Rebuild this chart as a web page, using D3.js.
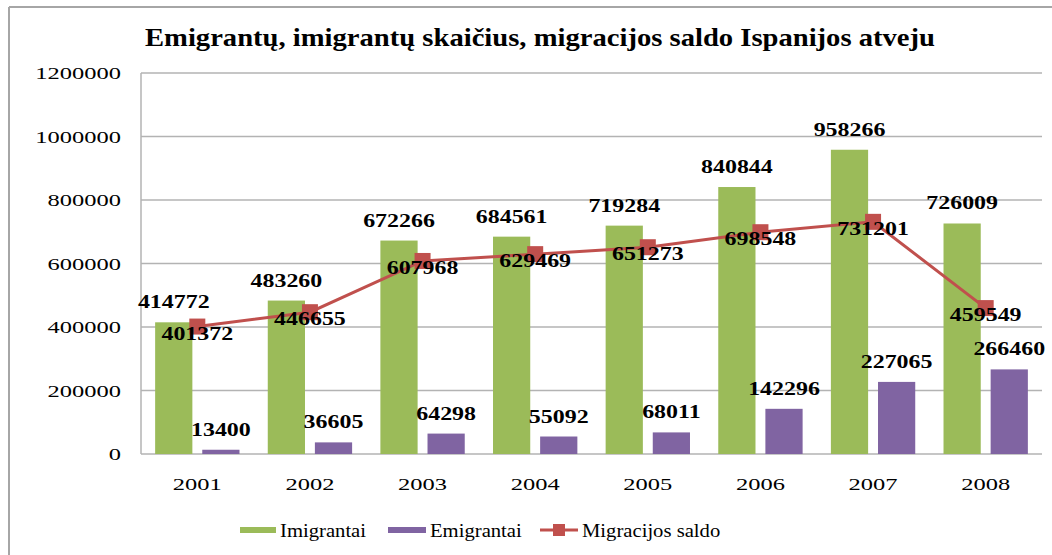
<!DOCTYPE html>
<html>
<head>
<meta charset="utf-8">
<script src="https://cdn.jsdelivr.net/npm/d3@7"></script>
<style>
    body { margin: 0; background: #fff; }
    text { font-family: "Liberation Serif", "Times New Roman", serif; }
</style>
</head>
<body>
<script>
var years = ['2001', '2002', '2003', '2004', '2005', '2006', '2007', '2008'];
var imigrantai = [414772, 483260, 672266, 684561, 719284, 840844, 958266, 726009];
var emigrantai = [13400, 36605, 64298, 55092, 68011, 142296, 227065, 266460];
var saldo = [401372, 446655, 607968, 629469, 651273, 698548, 731201, 459549];
var yTicks = [0, 200000, 400000, 600000, 800000, 1000000, 1200000];
var seriesNames = ['Imigrantai', 'Emigrantai', 'Migracijos saldo'];
var colors = ['#9BBB59', '#8064A2', '#C0504D'];

var width = 1052;
var height = 555;

var svg = d3.select('body')
    .append('svg')
    .attr('width', width)
    .attr('height', height);

// outer frame (only top and left edges visible)
svg.append('line')
    .attr('x1', 9).attr('x2', width)
    .attr('y1', 7).attr('y2', 7)
    .attr('stroke', '#a6a6a6').attr('stroke-width', 2);
svg.append('line')
    .attr('x1', 9).attr('x2', 9)
    .attr('y1', 7).attr('y2', height)
    .attr('stroke', '#a6a6a6').attr('stroke-width', 2);

svg.append('text')
    .attr('x', 540)
    .attr('y', 46)
    .attr('text-anchor', 'middle')
    .attr('font-size', 25)
    .attr('font-weight', 'bold')
    .attr('textLength', 790)
    .attr('lengthAdjust', 'spacingAndGlyphs')
    .text('Emigrantų, imigrantų skaičius, migracijos saldo Ispanijos atveju');

var x = d3.scaleBand().domain(years).range([141, 1042]);
var xInner = d3.scaleBand().domain([0, 1]).range([0, x.bandwidth()])
    .paddingInner(0.21).paddingOuter(0.3);
var y = d3.scaleLinear().domain([0, 1200000]).range([454, 73]);

// stretched text helper
function wideText(g, tx, ty, sx, str) {
    return g.append('text')
        .attr('transform', 'translate(' + tx + ',' + ty + ') scale(' + sx + ',1)')
        .text(str);
}

// gridlines + y labels
yTicks.forEach(function (t) {
    svg.append('line')
        .attr('x1', 141).attr('x2', 1042)
        .attr('y1', y(t)).attr('y2', y(t))
        .attr('stroke', '#b3b3b3').attr('stroke-width', 1.5);
    wideText(svg, 121, y(t) + 6, 1.4, t)
        .attr('text-anchor', 'end')
        .attr('font-size', 17.5);
});
svg.append('line')
    .attr('x1', 141).attr('x2', 141)
    .attr('y1', y(1200000)).attr('y2', y(0))
    .attr('stroke', '#b3b3b3').attr('stroke-width', 1.5);

// x labels
years.forEach(function (yr) {
    wideText(svg, x(yr) + x.bandwidth() / 2, 490, 1.4, yr)
        .attr('text-anchor', 'middle')
        .attr('font-size', 17.5);
});

// bars
var barSeries = [imigrantai, emigrantai];
barSeries.forEach(function (vals, s) {
    svg.selectAll('.bar' + s)
        .data(vals)
        .enter()
        .append('rect')
        .attr('x', function (d, i) { return x(years[i]) + xInner(s); })
        .attr('y', function (d) { return y(d); })
        .attr('width', xInner.bandwidth())
        .attr('height', function (d) { return y(0) - y(d); })
        .attr('fill', colors[s]);
});

// line
var line = d3.line()
    .x(function (d, i) { return x(years[i]) + x.bandwidth() / 2; })
    .y(function (d) { return y(d); });

svg.append('path')
    .datum(saldo)
    .attr('d', line)
    .attr('fill', 'none')
    .attr('stroke', colors[2])
    .attr('stroke-width', 3);

saldo.forEach(function (d, i) {
    svg.append('rect')
        .attr('x', x(years[i]) + x.bandwidth() / 2 - 8)
        .attr('y', y(d) - 8)
        .attr('width', 16)
        .attr('height', 16)
        .attr('fill', colors[2]);
});

// data labels
barSeries.forEach(function (vals, s) {
    vals.forEach(function (d, i) {
        wideText(svg, x(years[i]) + xInner(s) + xInner.bandwidth() / 2, y(d) - 14, 1.33, d)
            .attr('text-anchor', 'middle')
            .attr('font-size', 18)
            .attr('font-weight', 'bold');
    });
});
saldo.forEach(function (d, i) {
    wideText(svg, x(years[i]) + x.bandwidth() / 2, y(d) + 13, 1.33, d)
        .attr('text-anchor', 'middle')
        .attr('font-size', 18)
        .attr('font-weight', 'bold');
});

// legend
var legend = svg.append('g');
legend.append('rect')
    .attr('x', 240).attr('y', 527).attr('width', 36).attr('height', 6)
    .attr('fill', colors[0]);
wideText(legend, 280, 537, 1.06, seriesNames[0]).attr('font-size', 19.5);
legend.append('rect')
    .attr('x', 388).attr('y', 527).attr('width', 38).attr('height', 6)
    .attr('fill', colors[1]);
wideText(legend, 430, 537, 1.06, seriesNames[1]).attr('font-size', 19.5);
legend.append('line')
    .attr('x1', 540).attr('x2', 578).attr('y1', 530).attr('y2', 530)
    .attr('stroke', colors[2]).attr('stroke-width', 3);
legend.append('rect')
    .attr('x', 553).attr('y', 524).attr('width', 12).attr('height', 12)
    .attr('fill', colors[2]);
wideText(legend, 582, 537, 1.06, seriesNames[2]).attr('font-size', 19.5);
</script>
</body>
</html>
